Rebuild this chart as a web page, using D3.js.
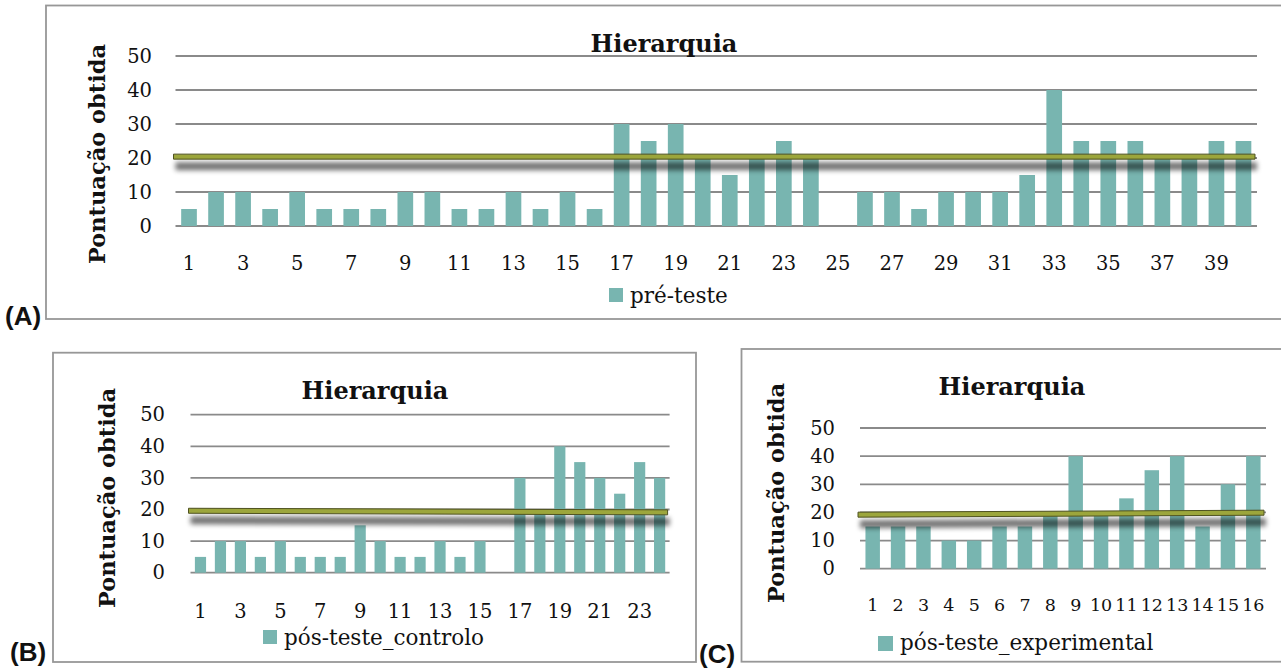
<!DOCTYPE html>
<html>
<head>
<meta charset="utf-8">
<script src="https://cdn.jsdelivr.net/npm/d3@7"></script>
<style>
  html, body { margin: 0; padding: 0; background: #fff; }
  svg { display: block; }
</style>
</head>
<body>
<svg id="chart" width="1281" height="670"></svg>
<script>
// ---- data ----
const chartTitle = "Hierarquia";
const yAxisTitle = "Pontuação obtida";
const yTicks = [0, 10, 20, 30, 40, 50];

// (A) pré-teste, 40 participants
const preCategories = d3.range(1, 41);
const preValues = [5, 10, 10, 5, 10, 5, 5, 5, 10, 10,
                   5, 5, 10, 5, 10, 5, 30, 25, 30, 20,
                   15, 20, 25, 20, 0, 10, 10, 5, 10, 10,
                   10, 15, 40, 25, 25, 25, 20, 20, 25, 25];
const preLabels = preCategories.filter(c => c % 2 === 1);
const preThreshold = [20.4, 20.4];

// (B) pós-teste, control group, 24 participants
const ctrlCategories = d3.range(1, 25);
const ctrlValues = [5, 10, 10, 5, 10, 5, 5, 5, 15, 10,
                    5, 5, 10, 5, 10, 0, 30, 20, 40, 35,
                    30, 25, 35, 30];
const ctrlLabels = ctrlCategories.filter(c => c % 2 === 1);
const ctrlThreshold = [19.6, 19.1];

// (C) pós-teste, experimental group, 16 participants
const expCategories = d3.range(1, 17);
const expValues = [15, 15, 15, 10, 10, 15, 15, 20, 40, 20,
                   25, 35, 40, 15, 30, 40];
const expLabels = expCategories.slice();
const expThreshold = [19.2, 19.9];

const seriesNames = ["pré-teste", "pós-teste_controlo", "pós-teste_experimental"];
const panelTags = ["(A)", "(B)", "(C)"];

// ---- styles ----
const SERIF = '"DejaVu Serif", "Liberation Serif", serif';
const SANS = '"Liberation Sans", Arial, sans-serif';
const BAR = "#78b5b0";
const GRID = "#8a8a8a";
const FRAME = "#979797";
const LINE_FILL = "#9ca63c";
const LINE_EDGE = "#4f5220";
const INK = "#111";

const svg = d3.select("#chart");
const defs = svg.append("defs");
defs.append("filter")
  .attr("id", "shadowBlur")
  .attr("x", "-5%").attr("y", "-200%").attr("width", "110%").attr("height", "500%")
  .append("feGaussianBlur").attr("stdDeviation", "2.6 2.4");

// ---- layout of the three panels ----
const panels = [
  {
    cats: preCategories, vals: preValues, labels: preLabels, thr: preThreshold,
    name: seriesNames[0], tag: panelTags[0],
    frame: [46, 5.5, 1282, 319],
    x: [175.5, 1257], y: [226, 56],
    title: [664, 52], yTitle: [97, 154], yTickRight: 152, xLabelY: 263, xLabelSize: 19.5,
    legend: [609, 288, 14], legendText: [630, 303],
    tagPos: [5, 325], barPad: 0.42
  },
  {
    cats: ctrlCategories, vals: ctrlValues, labels: ctrlLabels, thr: ctrlThreshold,
    name: seriesNames[1], tag: panelTags[1],
    frame: [53, 352.7, 696, 662],
    x: [190.5, 669.6], y: [572.7, 414.7],
    title: [375, 399], yTitle: [107, 498], yTickRight: 165, xLabelY: 611, xLabelSize: 19.5,
    legend: [263, 630, 14], legendText: [284, 645],
    tagPos: [10, 661], barPad: 0.44
  },
  {
    cats: expCategories, vals: expValues, labels: expLabels, thr: expThreshold,
    name: seriesNames[2], tag: panelTags[2],
    frame: [741.5, 349, 1282, 661.7],
    x: [860, 1266], y: [568.7, 428],
    title: [1012, 395], yTitle: [776, 493], yTickRight: 835, xLabelY: 605, xLabelSize: 17.5,
    legend: [878, 636, 15], legendText: [900, 650],
    tagPos: [699, 663], barPad: 0.43
  }
];

panels.forEach(p => {
  const g = svg.append("g");

  // outer frame
  g.append("rect")
    .attr("x", p.frame[0]).attr("y", p.frame[1])
    .attr("width", p.frame[2] - p.frame[0]).attr("height", p.frame[3] - p.frame[1])
    .attr("fill", "#fff").attr("stroke", FRAME).attr("stroke-width", 1.8);

  const x = d3.scaleBand().domain(p.cats).range(p.x)
    .paddingInner(p.barPad).paddingOuter(p.barPad / 2);
  const y = d3.scaleLinear().domain([0, 50]).range(p.y);

  // horizontal gridlines
  g.append("g").selectAll("line").data(yTicks).join("line")
    .attr("x1", p.x[0]).attr("x2", p.x[1])
    .attr("y1", d => y(d)).attr("y2", d => y(d))
    .attr("stroke", GRID).attr("stroke-width", 1.8);

  // y tick labels
  const yAxis = d3.axisLeft(y).tickValues(yTicks).tickSize(0).tickPadding(0);
  const ya = g.append("g").attr("transform", `translate(${p.yTickRight},0)`).call(yAxis);
  ya.select(".domain").remove();
  ya.attr("font-family", null).attr("font-size", null);
  ya.selectAll("text")
    .style("font-family", SERIF).style("font-size", "19.5px").attr("fill", INK);

  // bars
  g.append("g").selectAll("rect").data(p.vals).join("rect")
    .attr("x", (d, i) => x(p.cats[i]))
    .attr("width", x.bandwidth())
    .attr("y", d => y(d))
    .attr("height", d => y(0) - y(d))
    .attr("fill", BAR);

  // x tick labels
  const xAxis = d3.axisBottom(x).tickValues(p.labels).tickSize(0).tickPadding(0);
  const xa = g.append("g").attr("transform", `translate(0,${p.xLabelY})`).call(xAxis);
  xa.select(".domain").remove();
  xa.attr("font-family", null).attr("font-size", null);
  xa.selectAll("text")
    .style("font-family", SERIF).style("font-size", p.xLabelSize + "px").attr("fill", INK)
    .attr("dy", "0.36em").attr("y", 0);

  // threshold band with its soft drop shadow
  const t0 = y(p.thr[0]), t1 = y(p.thr[1]);
  const h = 5;
  g.append("path")
    .attr("d", `M${p.x[0]},${t0 + h / 2 + 3} L${p.x[1]},${t1 + h / 2 + 3} L${p.x[1]},${t1 + h / 2 + 11} L${p.x[0]},${t0 + h / 2 + 11} Z`)
    .attr("fill", "#000").attr("opacity", 0.55)
    .attr("filter", "url(#shadowBlur)");
  g.append("path")
    .attr("d", `M${p.x[0] - 2},${t0 - h / 2} L${p.x[1] - 2},${t1 - h / 2} L${p.x[1] - 2},${t1 + h / 2} L${p.x[0] - 2},${t0 + h / 2} Z`)
    .attr("fill", LINE_FILL).attr("stroke", LINE_EDGE).attr("stroke-width", 1);

  // chart title
  g.append("text")
    .attr("x", p.title[0]).attr("y", p.title[1])
    .attr("text-anchor", "middle")
    .style("font-family", SERIF).style("font-weight", "bold").style("font-size", "24px")
    .attr("fill", INK).text(chartTitle);

  // y axis title
  g.append("text")
    .attr("transform", `translate(${p.yTitle[0]},${p.yTitle[1]}) rotate(-90)`)
    .attr("text-anchor", "middle").attr("dy", "0.35em")
    .style("font-family", SERIF).style("font-weight", "bold").style("font-size", "22.5px")
    .attr("fill", INK).text(yAxisTitle);

  // legend
  g.append("rect")
    .attr("x", p.legend[0]).attr("y", p.legend[1])
    .attr("width", p.legend[2]).attr("height", p.legend[2])
    .attr("fill", BAR);
  g.append("text")
    .attr("x", p.legendText[0]).attr("y", p.legendText[1])
    .style("font-family", SERIF).style("font-size", "21.5px")
    .attr("fill", INK).text(p.name);

  // panel tag
  svg.append("text")
    .attr("x", p.tagPos[0]).attr("y", p.tagPos[1])
    .style("font-family", SANS).style("font-weight", "bold").style("font-size", "26px")
    .attr("fill", INK).text(p.tag);
});
</script>
</body>
</html>
